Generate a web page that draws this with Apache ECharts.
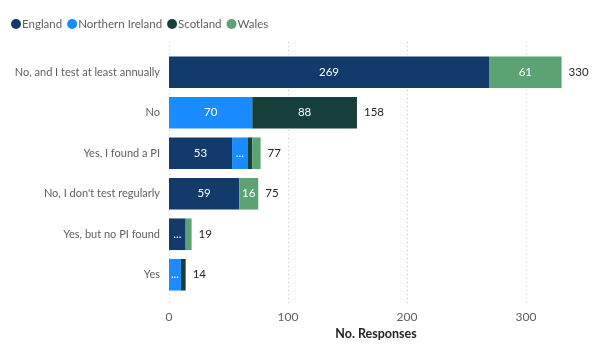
<!DOCTYPE html>
<html><head><meta charset="utf-8">
<script src="https://cdn.jsdelivr.net/npm/echarts@6/dist/echarts.min.js"></script>
<style>html,body{margin:0;padding:0;background:#fff}#c{width:602px;height:350px}</style>
</head><body><div id="c"></div>
<script>
const categories = ["No, and I test at least annually","No","Yes, I found a PI","No, I don't test regularly","Yes, but no PI found","Yes"];
const england = [269, 0, 53, 59, 14, 0];
const northernIreland = [0, 70, 13, 0, 0, 10];
const scotland = [0, 88, 4, 0, 0, 4];
const wales = [61, 0, 7, 16, 5, 0];
const xTicks = [0, 100, 200, 300];
const totals = categories.map((c,i)=>england[i]+northernIreland[i]+scotland[i]+wales[i]);

const FONT = '"Segoe UI", Lato, "Open Sans", sans-serif';
const colors = {England:'#123B6B', NI:'#1A8CFF', Scotland:'#163F3A', Wales:'#5BA372'};
function lbl(p){ const v=p.value; if(v>=16) return String(v); if(v>=9) return '...'; return ''; }
function seg(name, data, color){
  return {name, type:'bar', stack:'s', xAxisIndex:1, yAxisIndex:1, data, barWidth:'78%',
    itemStyle:{color}, label:{show:true, position:'inside', color:'#fff', fontSize:11.5, fontFamily:FONT, formatter:lbl}};
}
const chart = echarts.init(document.getElementById('c'), null, {renderer:'canvas'});
chart.setOption({
  animation:false,
  textStyle:{fontFamily:FONT},
  legend:{left:6, top:13, icon:'circle', itemWidth:10, itemHeight:10, itemGap:5,
    textStyle:{color:'#605E5C', fontSize:11.5, fontFamily:FONT, padding:[0,0,0,-4]},
    data:['England','Northern Ireland','Scotland','Wales']},
  grid:[{left:169, right:76, top:42, bottom:45, outerBoundsMode:'none', containLabel:false},
        {left:169, right:19, top:52, bottom:55, outerBoundsMode:'none', containLabel:false}],
  xAxis:[
    {type:'value', gridIndex:0, min:xTicks[0], max:xTicks[xTicks.length-1], interval:100,
     axisLine:{show:false}, axisTick:{show:false},
     axisLabel:{color:'#605E5C', fontSize:12, margin:6, fontFamily:FONT},
     splitLine:{show:true, lineStyle:{type:[1,3], color:'#C8C8C8', width:1}}},
    {type:'value', gridIndex:1, min:0, max:348, axisLine:{show:false}, axisTick:{show:false},
     axisLabel:{show:false}, splitLine:{show:false},
     name:'No. Responses', nameLocation:'middle', nameGap:32,
     nameTextStyle:{color:'#252423', fontSize:12.5, fontWeight:'bold', fontFamily:FONT}}
  ],
  yAxis:[
    {type:'value', gridIndex:0, show:false},
    {type:'category', gridIndex:1, data:categories, inverse:true,
     axisLine:{show:false}, axisTick:{show:false},
     axisLabel:{color:'#605E5C', fontSize:11, margin:9, fontFamily:FONT}}
  ],
  series:[
    seg('England', england, colors.England),
    seg('Northern Ireland', northernIreland, colors.NI),
    seg('Scotland', scotland, colors.Scotland),
    seg('Wales', wales, colors.Wales),
    {name:'Total', type:'bar', xAxisIndex:1, yAxisIndex:1, data:totals, barGap:'-100%', barWidth:'78%',
     itemStyle:{color:'rgba(0,0,0,0)'}, silent:true, z:1,
     label:{show:true, position:'right', distance:7, color:'#252423', fontSize:11.5, fontFamily:FONT}}
  ]
});
</script></body></html>
